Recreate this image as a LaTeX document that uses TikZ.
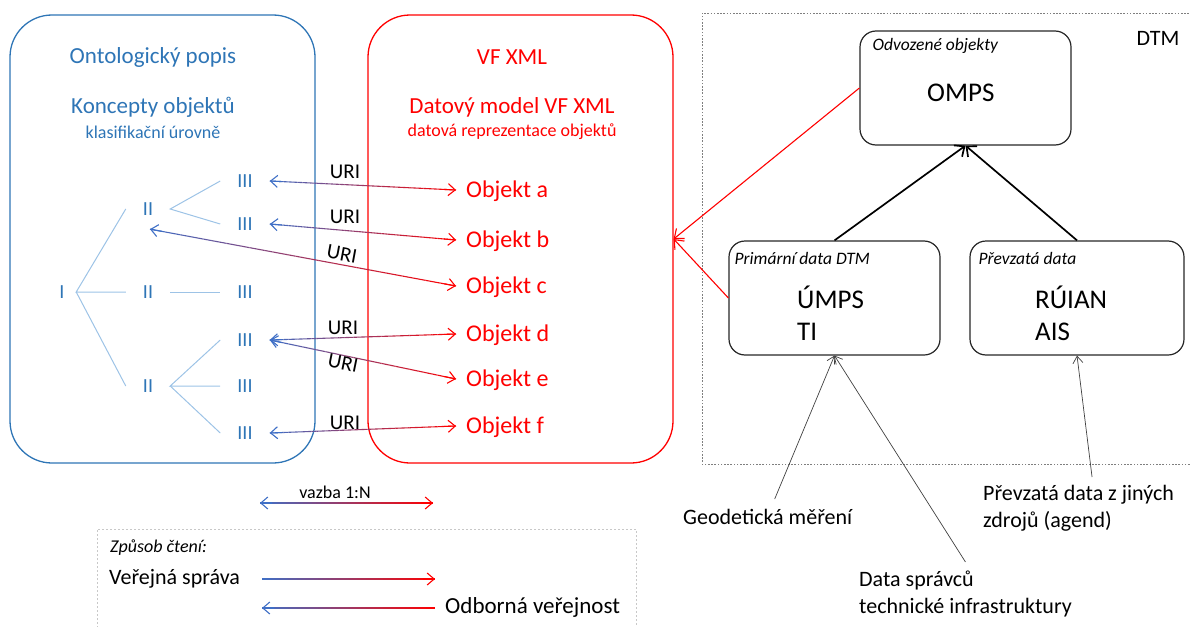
\documentclass[tikz,border=0pt]{standalone}
\usepackage{fontspec}
\setmainfont{Carlito}
\usetikzlibrary{arrows.meta,calc}

\definecolor{ontoblue}{HTML}{2E75B6}
\definecolor{treeline}{HTML}{9DC3E6}
\definecolor{linkblue}{HTML}{3F6FC6}
\definecolor{dtmgray}{HTML}{7F7F7F}
\definecolor{legendgray}{HTML}{C8C8C8}
\definecolor{notegray}{HTML}{404040}

\newcommand{\fsz}[2]{\fontsize{#1}{#2}\selectfont}

% line whose colour runs from blue (#1) to red (#2)
\newcommand{\gradlink}[2]{%
  \foreach \k in {1,...,40}{%
    \pgfmathtruncatemacro{\pr}{(\k-0.5)*2.5}%
    \draw[linkseg, color=red!\pr!linkblue] ($(#1)!{(\k-1)/40}!(#2)$) -- ($(#1)!{\k/40}!(#2)$);
  }}
% open arrow head at #1, coming from the direction of #2
\newcommand{\linkhead}[3]{%
  \draw[linkseg, #3, -{Straight Barb[length=7pt,width=12pt]}] ($(#1)!12pt!(#2)$) -- (#1);}
% two-headed URI link, blue end first
\newcommand{\urilink}[2]{\gradlink{#1}{#2}\linkhead{#1}{#2}{linkblue}\linkhead{#2}{#1}{red}}

\tikzset{
  bigbox/.style={draw, line width=1.3pt, rounded corners=42pt, minimum width=305pt,
                 minimum height=448pt, inner sep=0pt},
  headtext/.style={font=\fsz{23}{27}, inner sep=0pt},
  subtext/.style={font=\fsz{18}{21}, inner sep=0pt},
  lvl/.style={text=ontoblue, font=\fsz{20}{24}, text height=12.9pt, text depth=0pt,
              inner ysep=0pt, inner xsep=17pt},
  lvlone/.style={lvl, inner xsep=11.5pt},
  treeedge/.style={draw=treeline, line width=1pt},
  objtext/.style={text=red, font=\fsz{24}{28}, text height=15.5pt, text depth=0pt,
                  inner ysep=0pt, inner xsep=10pt, anchor=west},
  uri/.style={font=\fsz{21}{25}, inner sep=0pt},
  linkseg/.style={line width=1.1pt},
  dtmframe/.style={draw=dtmgray, line width=0.8pt, dash pattern=on 1.6pt off 1.6pt},
  legendframe/.style={draw=legendgray, line width=0.8pt, dash pattern=on 2pt off 2pt},
  dtmbox/.style={draw=black!85, line width=1.2pt, rounded corners=16pt, minimum height=114pt,
                 inner sep=0pt},
  boxtitle/.style={font=\itshape\fsz{17.5}{21}, anchor=west, inner sep=0pt,
                   text height=11.3pt, text depth=0pt},
  bigtext/.style={font=\fsz{27}{32}, anchor=west, inner sep=0pt, text height=17.4pt,
                  text depth=0pt},
  note/.style={font=\fsz{22}{27}, align=left, inner xsep=0pt},
  vfarrow/.style={draw=red, line width=1.1pt, -{Straight Barb[length=8pt,width=13pt]}},
  dtmarrow/.style={draw=black, line width=1.7pt, -{Straight Barb[length=8pt,width=14pt]}},
  notearrow/.style={draw=notegray, line width=0.7pt, -{Straight Barb[length=7pt,width=10pt]}},
}

\begin{document}
\begin{tikzpicture}[x=1pt, y=-1pt]
\useasboundingbox (0,0) rectangle (1190,626);

% ---- ontology box ----
\node[bigbox, draw=ontoblue] (onto) at (162.5,239) {};
\node[headtext, text=ontoblue] (ontotitle) at (153,57) {Ontologický popis};
\node[headtext, text=ontoblue] (koncepty) at (153,107) {Koncepty objektů};
\node[subtext, text=ontoblue] (klasif) at (153,132) {klasifikační úrovně};

% classification tree
\node[lvlone] (i) at (62,292) {I};
\node[lvl] (iia) at (148,209) {II};
\node[lvl] (iib) at (148,292) {II};
\node[lvl] (iic) at (148,386) {II};
\node[lvl] (t3a) at (245,181) {III};
\node[lvl] (t3b) at (245,224) {III};
\node[lvl] (t3c) at (245,292) {III};
\node[lvl] (t3d) at (245,340) {III};
\node[lvl] (t3e) at (245,386) {III};
\node[lvl] (t3f) at (245,433) {III};
\draw[treeedge] (iia.west) -- (i.east) -- (iib.west);
\draw[treeedge] (i.east) -- (iic.west);
\draw[treeedge] (t3a.west) -- (iia.east) -- (t3b.west);
\draw[treeedge] (iib.east) -- (t3c.west);
\draw[treeedge] (t3d.west) -- (iic.east) -- (t3e.west);
\draw[treeedge] (iic.east) -- (t3f.west);
\coordinate (iiatip) at ($(iia.south)+(2,13.5)$);

% ---- VF XML box ----
\node[bigbox, draw=red] (vf) at (520.5,239) {};
\node[headtext, text=red] (vftitle) at (512,57) {VF XML};
\node[headtext, text=red] (datmodel) at (512,107) {Datový model VF XML};
\node[subtext, text=red] (datrep) at (512,132) {datová reprezentace objektů};

\node[objtext] (oa) at (456,190) {Objekt a};
\node[objtext] (ob) at (456,240) {Objekt b};
\node[objtext] (oc) at (456,286) {Objekt c};
\node[objtext] (od) at (456,334) {Objekt d};
\node[objtext] (oe) at (456,379) {Objekt e};
\node[objtext] (of) at (456,426) {Objekt f};

% URI links between concepts and objects
\urilink{t3a.east}{oa.west}
\urilink{t3b.east}{ob.west}
\urilink{iiatip}{oc.west}
\urilink{t3d.east}{od.west}
\urilink{t3d.east}{oe.west}
\urilink{t3f.east}{of.west}
\node[uri] (uria) at (345,172) {URI};
\node[uri] (urib) at (345,217) {URI};
\node[uri, rotate=-10.5] (uric) at (342,254) {URI};
\node[uri] (urid) at (343,328) {URI};
\node[uri, rotate=-11.5] (urie) at (343,363) {URI};
\node[uri] (urif) at (345,423) {URI};

% ---- DTM ----
\draw[dtmframe] (1196,464) -- (702,464) -- (702,13) -- (1196,13);
\node[font=\fsz{22}{26}, inner sep=0pt] (dtm) at (1158,38) {DTM};

\node[dtmbox, minimum width=211pt] (omps) at (965.5,88) {};
\node[boxtitle] (ompstitle) at ($(omps.north west)+(13,14)$) {Odvozené objekty};
\node[bigtext] (ompstext) at (927,93) {OMPS};

\node[dtmbox, minimum width=211pt] (prim) at (834.5,298) {};
\node[boxtitle] (primtitle) at ($(prim.north west)+(6,18)$) {Primární data DTM};
\node[bigtext] (umps) at (797,300) {ÚMPS};
\node[bigtext] (ti) at (797,332) {TI};

\node[dtmbox, minimum width=214pt] (prev) at (1077,298) {};
\node[boxtitle] (prevtitle) at ($(prev.north west)+(9,18)$) {Převzatá data};
\node[bigtext] (ruian) at (1035,300) {RÚIAN};
\node[bigtext] (ais) at (1035,332) {AIS};

\draw[dtmarrow] (prim.north) -- (omps.south);
\draw[dtmarrow] (prev.north) -- (omps.south);
\draw[vfarrow] (omps.west) -- (vf.east);
\draw[vfarrow] (prim.west) -- (vf.east);

% data sources
\node[note, anchor=north west, inner ysep=10pt] (geo) at (683,499) {Geodetická měření};
\node[note, anchor=north west, inner ysep=9pt] (dsti) at (859,562) {Data správců\\technické infrastruktury};
\node[note, anchor=north west, inner ysep=8pt] (prevsrc) at (983,477) {Převzatá data z jiných\\zdrojů (agend)};
\draw[notearrow] ([xshift=7pt]geo.north) -- (prim.south);
\draw[notearrow] (dsti.north) -- (prim.south);
\draw[notearrow] ([xshift=13.5pt]prevsrc.north) -- (prev.south);

% ---- legend ----
\node[font=\fsz{18}{21}, inner sep=0pt] (vazba) at (335,492) {vazba 1:N};
\coordinate (vazl) at (260,503);
\coordinate (vazr) at (433,503);
\urilink{vazl}{vazr}

\draw[legendframe] (97,632) -- (97,529) -- (636,529) -- (636,632);
\node[font=\itshape\fsz{18}{21}, anchor=west, inner sep=0pt] (zpusob) at (110,548) {Způsob čtení:};
\node[font=\fsz{22}{26}, anchor=west, inner sep=0pt] (verejna) at (109,579) {Veřejná správa};
\node[font=\fsz{23}{27}, anchor=west, inner sep=0pt] (odborna) at (445,607) {Odborná veřejnost};
\coordinate (rdl) at (262,579);
\coordinate (rdr) at (435,579);
\coordinate (rul) at (262,608);
\coordinate (rur) at (435,608);
\gradlink{rdl}{rdr}\linkhead{rdr}{rdl}{red}
\gradlink{rul}{rur}\linkhead{rul}{rur}{linkblue}
\end{tikzpicture}
\end{document}
